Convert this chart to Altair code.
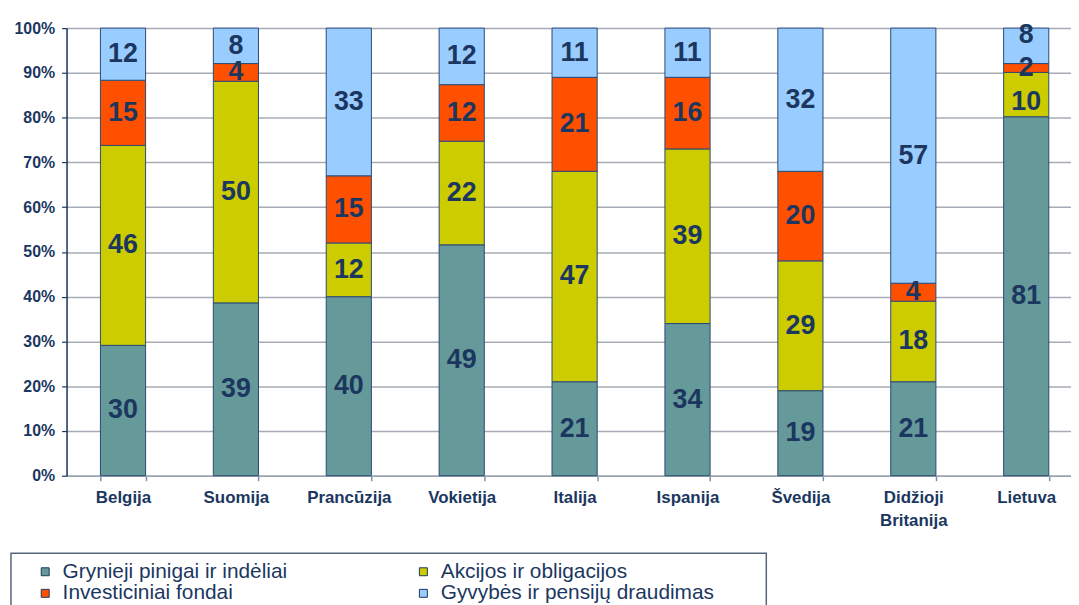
import altair as alt
import pandas as pd

countries = ["Belgija", "Suomija", "Prancūzija", "Vokietija", "Italija",
             "Ispanija", "Švedija", "Didžioji Britanija", "Lietuva"]
series = ["Grynieji pinigai ir indėliai", "Akcijos ir obligacijos",
          "Investiciniai fondai", "Gyvybės ir pensijų draudimas"]
grynieji = [30, 39, 40, 49, 21, 34, 19, 21, 81]
akcijos = [46, 50, 12, 22, 47, 39, 29, 18, 10]
investiciniai = [15, 4, 15, 12, 21, 16, 20, 4, 2]
gyvybes = [12, 8, 33, 12, 11, 11, 32, 57, 8]
colors = ["#669999", "#CCCC00", "#FF5000", "#99CCFF"]
y_ticks = [0, 0.1, 0.2, 0.3, 0.4, 0.5, 0.6, 0.7, 0.8, 0.9, 1.0]

# legend is read row by row in the reference; Vega fills columns first
legend_order = [series[0], series[2], series[1], series[3]]
legend_colors = [colors[0], colors[2], colors[1], colors[3]]

# small label nudges (share of the axis) where the reference moved crowded labels
label_nudge = {("Lietuva", series[3]): 0.024, ("Lietuva", series[1]): -0.016}

rows = []
for i, c in enumerate(countries):
    vals = [grynieji[i], akcijos[i], investiciniai[i], gyvybes[i]]
    total = sum(vals)
    cum = 0
    for j, (s, v) in enumerate(zip(series, vals)):
        rows.append(dict(country=c, series=s, order=j, value=v,
                         mid=(cum + v / 2) / total + label_nudge.get((c, s), 0)))
        cum += v
df = pd.DataFrame(rows)

NAVY = "#1B375F"
FONT = "Liberation Sans"

xscale = alt.Scale(range=[0, 1023.75], paddingInner=0.6, paddingOuter=0.3)
yscale = alt.Scale(domain=[0, 1])

bars = alt.Chart(df).mark_bar(stroke="#2A4A75", strokeWidth=1).encode(
    x=alt.X("country:N", sort=countries, scale=xscale,
            axis=alt.Axis(title=None, labelExpr="split(datum.label, ' ')",
                          tickBand="extent", labelAngle=0, labelFont=FONT,
                          labelFontSize=17, labelFontWeight="bold",
                          labelColor=NAVY, labelPadding=9, labelLineHeight=23,
                          tickSize=5, tickColor="#7f8fa8", tickWidth=1.5,
                          domainColor="#9aa3b0", domainWidth=1.5, grid=False)),
    y=alt.Y("value:Q", stack="normalize", scale=yscale,
            axis=alt.Axis(title=None, values=y_ticks, format=".0%",
                          labelFont=FONT, labelFontSize=16,
                          labelFontWeight="bold", labelColor=NAVY,
                          labelPadding=7, tickSize=5, tickColor=NAVY,
                          tickWidth=1.2, domainColor=NAVY, domainWidth=1.5,
                          grid=True, gridColor="#a6abb5", gridWidth=1.5)),
    color=alt.Color("series:N", sort=legend_order,
                    scale=alt.Scale(domain=legend_order, range=legend_colors),
                    legend=alt.Legend(title=None, orient="none", legendX=-32,
                                      legendY=537, columns=2,
                                      symbolType="square", symbolSize=64,
                                      symbolStrokeColor=NAVY,
                                      symbolStrokeWidth=1, symbolOpacity=1,
                                      labelFontSize=21, labelColor=NAVY,
                                      labelFont=FONT, labelOffset=7,
                                      rowPadding=0, columnPadding=126,
                                      labelLimit=400)),
    order=alt.Order("order:Q"),
)

labels = alt.Chart(df).mark_text(font=FONT, fontSize=27, fontWeight="bold",
                                 color=NAVY, baseline="middle").encode(
    x=alt.X("country:N", sort=countries, scale=xscale),
    y=alt.Y("mid:Q", scale=yscale),
    text=alt.Text("value:Q"),
)

box = alt.Chart(pd.DataFrame({"k": [0]})).mark_rect(
    fill="transparent", stroke="#56667f", strokeWidth=1.5).encode(
    x=alt.value(-56), x2=alt.value(705), y=alt.value(529), y2=alt.value(610))

chart = alt.layer(bars, labels, box).properties(
    width=1012, height=451,
    padding={"left": 59, "top": 18, "right": 0, "bottom": 128},
    autosize=alt.AutoSizeParams(type="none"),
).configure_view(stroke=None).configure(font=FONT)

chart.save("out.html", embed_options={"renderer": "svg", "actions": False})
